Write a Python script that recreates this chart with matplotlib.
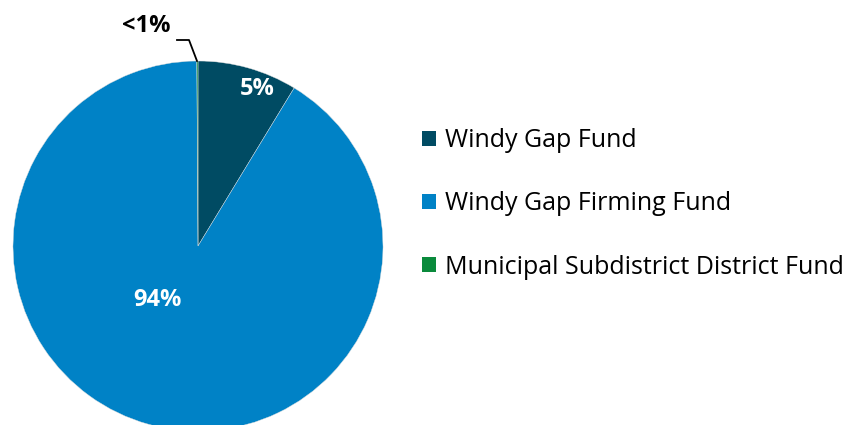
import matplotlib.pyplot as plt
from matplotlib.patches import Patch

# fund shares (slice sizes) and their printed labels
funds = ["Windy Gap Fund", "Windy Gap Firming Fund", "Municipal Subdistrict District Fund"]
shares = [8.7, 91.2, 0.1]
share_labels = ["5%", "94%", "<1%"]
colors = ["#004B63", "#0082C6", "#0A8A3C"]

plt.rcParams['font.family'] = ['Open Sans', 'DejaVu Sans']

fig = plt.figure(figsize=(8.51, 4.25), dpi=100)
ax = fig.add_axes([0, 0, 1, 1])

wedges, _ = ax.pie(shares, colors=colors, startangle=90, counterclock=False,
                   center=(198, 179), radius=185, frame=True,
                   wedgeprops=dict(linewidth=0.3, edgecolor='#dddddd'))
ax.set_xlim(0, 851)
ax.set_ylim(0, 425)
ax.set_aspect('equal')
ax.axis('off')

# labels inside the slices
ax.text(257, 336, share_labels[0], color='white', fontsize=17, fontweight='bold',
        ha='center', va='center')
ax.text(157, 125, share_labels[1], color='white', fontsize=17, fontweight='bold',
        ha='center', va='center')
# small slice label with leader line
ax.plot([177, 189, 197], [385, 385, 364], color='black', linewidth=1.3)
ax.text(146, 399, share_labels[2], color='black', fontsize=17, fontweight='bold',
        ha='center', va='center')

handles = [Patch(facecolor=c, edgecolor='none') for c in colors]
fig.legend(handles, funds, loc='upper left', bbox_to_anchor=(422 / 851, 1 - 128 / 425),
           frameon=False, fontsize=18, handlelength=0.56, handleheight=0.56,
           handletextpad=0.36, labelspacing=1.53, borderpad=0, borderaxespad=0)

fig.savefig('out.png', dpi=100)
